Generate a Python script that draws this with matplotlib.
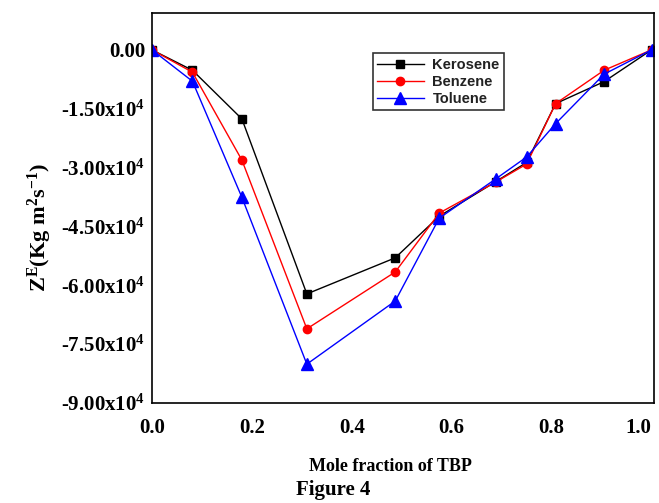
import matplotlib
matplotlib.use('Agg')
import matplotlib.pyplot as plt
from matplotlib.ticker import FuncFormatter

plt.rcParams['font.family'] = 'Liberation Serif'
plt.rcParams['mathtext.fontset'] = 'custom'
plt.rcParams['mathtext.rm'] = 'Liberation Serif:bold'
plt.rcParams['mathtext.bf'] = 'Liberation Serif:bold'
plt.rcParams['mathtext.it'] = 'Liberation Serif:bold'

# mole fraction of TBP
x = [0.0, 0.081, 0.18, 0.31, 0.487, 0.575, 0.688, 0.75, 0.808, 0.905, 1.0]

# Z^E values (Kg m^2 s^-1)
kerosene = [0, -0.52e4, -1.76e4, -6.22e4, -5.30e4, -4.24e4, -3.36e4, -2.87e4, -1.37e4, -0.81e4, 0]
benzene = [0, -0.57e4, -2.81e4, -7.11e4, -5.66e4, -4.16e4, -3.37e4, -2.91e4, -1.37e4, -0.52e4, 0]
toluene = [0, -0.80e4, -3.76e4, -8.01e4, -6.40e4, -4.29e4, -3.29e4, -2.73e4, -1.88e4, -0.62e4, 0]

yticks = [0, -1.5e4, -3.0e4, -4.5e4, -6.0e4, -7.5e4, -9.0e4]
xticks = [0.0, 0.2, 0.4, 0.6, 0.8, 1.0]

fig = plt.figure(figsize=(6.59, 5.03), dpi=100)
ax = fig.add_axes([152 / 659, 100 / 503, 502 / 659, 390 / 503])

ax.plot(x, kerosene, color='black', lw=1, marker='s', ms=6, label='Kerosene')
ax.plot(x, benzene, color='red', lw=1, marker='o', ms=6, label='Benzene')
ax.plot(x, toluene, color='blue', lw=1, marker='^', ms=8, label='Toluene')

ax.set_xlim(0, 1.005)
ax.set_ylim(-9.0e4, 0.94e4)
ax.set_xticks(xticks)
ax.set_yticks(yticks)


def yfmt(v, pos):
    if v == 0:
        return '0.00'
    return '%.2fx10$^{4}$' % (v / 1e4)


ax.yaxis.set_major_formatter(FuncFormatter(yfmt))
ax.xaxis.set_major_formatter(FuncFormatter(lambda v, p: '%.1f' % v))
ax.tick_params(axis='y', length=0, labelsize=15, pad=5)
ax.tick_params(axis='x', length=0, labelsize=15, pad=11)
for lab in ax.get_xticklabels() + ax.get_yticklabels():
    lab.set_fontweight('bold')
ax.get_xticklabels()[-1].set_ha('right')

for s in ax.spines.values():
    s.set_linewidth(1.2)

ax.set_ylabel(r'$\mathbf{Z}^{\mathbf{E}}$(Kg m$^{2}$s$^{-1}$)', fontsize=16,
              fontweight='bold')
ax.yaxis.set_label_coords(-0.195, 0.45)
ax.set_xlabel('Mole fraction of TBP', fontsize=13, fontweight='bold')
ax.xaxis.set_label_coords(0.475, -0.14)

leg = ax.legend(loc='upper left', bbox_to_anchor=(0.425, 0.915), frameon=True,
                fancybox=False, edgecolor='black', handlelength=3.2,
                prop={'family': 'Liberation Sans', 'weight': 'bold', 'size': 10.5},
                borderpad=0.3, labelspacing=0.2, handletextpad=0.6)
leg.get_frame().set_linewidth(1.2)
for t in leg.get_texts():
    t.set_color('#222222')

fig.text(333 / 659, 1 - 490 / 503, 'Figure 4', ha='center', va='center',
         fontsize=15, fontweight='bold')

fig.savefig('out.png', dpi=100)
